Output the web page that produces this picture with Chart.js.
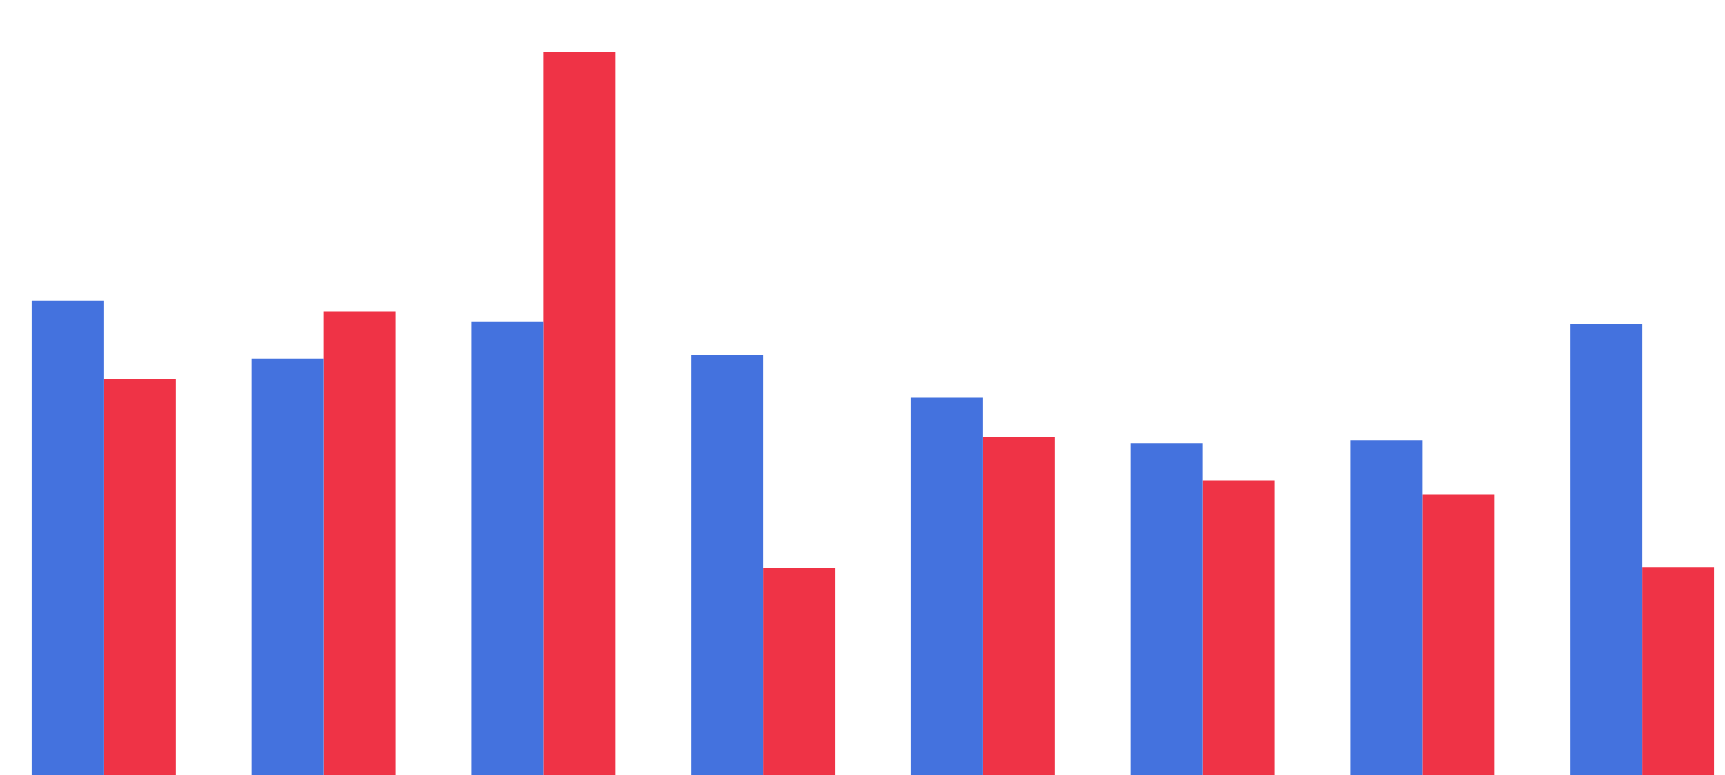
<!DOCTYPE html>
<html>
<head>
<meta charset="utf-8">
<script src="https://cdn.jsdelivr.net/npm/chart.js@4/dist/chart.umd.min.js"></script>
<style>
  html, body { margin: 0; padding: 0; background: #fff; overflow: hidden; }
  /* plot is a little wider than the window: first and last groups sit near the edges */
  #wrap { width: 1758px; height: 775px; position: absolute; left: -6px; top: 0; }
</style>
</head>
<body>
<div id="wrap"><canvas id="barChart"></canvas></div>
<script>
const categories = ["1", "2", "3", "4", "5", "6", "7", "8"];
const blueValues = [61.2, 53.7, 58.5, 54.2, 48.7, 42.8, 43.2, 58.2];
const redValues = [51.1, 59.8, 93.3, 26.7, 43.6, 38.0, 36.2, 26.8];
const yMax = 100;

new Chart(document.getElementById("barChart"), {
  type: "bar",
  data: {
    labels: categories,
    datasets: [
      {
        label: "A",
        data: blueValues,
        backgroundColor: "#4472de",
        borderWidth: 0,
        categoryPercentage: 0.655,
        barPercentage: 1.0,
      },
      {
        label: "B",
        data: redValues,
        backgroundColor: "#ef3346",
        borderWidth: 0,
        categoryPercentage: 0.655,
        barPercentage: 1.0,
      },
    ],
  },
  options: {
    responsive: true,
    maintainAspectRatio: false,
    animation: false,
    layout: { padding: 0 },
    plugins: { legend: { display: false }, tooltip: { enabled: false } },
    scales: {
      x: { display: false },
      y: { display: false, min: 0, max: yMax },
    },
  },
});
</script>
</body>
</html>
